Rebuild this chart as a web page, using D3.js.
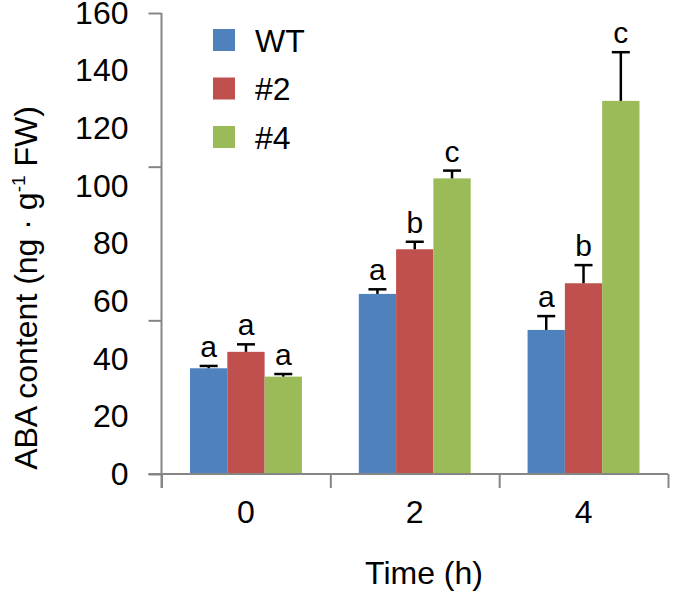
<!DOCTYPE html>
<html>
<head>
<meta charset="utf-8">
<script src="https://cdn.jsdelivr.net/npm/d3@7"></script>
<style>
  html, body { margin: 0; padding: 0; background: #fff; }
  svg { display: block; font-family: "Liberation Sans", Arial, sans-serif; }
</style>
</head>
<body>
<svg id="chart" width="675" height="596"></svg>
<script>
// ---- data ----
const categories = ["0", "2", "4"];
const seriesNames = ["WT", "#2", "#4"];
const seriesColors = ["#4F81BD", "#C0504D", "#9BBB59"];
const wtValues = [36.7, 62.5, 50.0];
const l2Values = [42.4, 78.0, 66.2];
const l4Values = [33.8, 102.6, 129.5];
const wtErr = [0.8, 1.6, 4.8];
const l2Err = [2.6, 2.6, 6.3];
const l4Err = [0.9, 2.7, 16.9];
const wtSig = ["a", "a", "a"];
const l2Sig = ["a", "b", "b"];
const l4Sig = ["a", "c", "c"];
const yTickLabels = [0, 20, 40, 60, 80, 100, 120, 140, 160];
const yTickMarks = [0, 160 / 3, 320 / 3, 160];
const xLabel = "Time (h)";

(function () {
const values = [wtValues, l2Values, l4Values];
const errs = [wtErr, l2Err, l4Err];
const sigs = [wtSig, l2Sig, l4Sig];

const rows = [];
categories.forEach((c, ci) => {
  seriesNames.forEach((s, si) => {
    rows.push({ cat: c, ser: s, si, v: values[si][ci], e: errs[si][ci], sig: sigs[si][ci] });
  });
});

const svg = d3.select("#chart");
const mLeft = 161.5, mRight = 668, mTop = 13, mBottom = 474;
const axisColor = "#868686";

const y = d3.scaleLinear().domain([0, 160]).range([mBottom, mTop]);
const x0 = d3.scaleBand().domain(categories).range([mLeft, mRight]).paddingInner(0.337).paddingOuter(0.169);
const x1 = d3.scaleBand().domain(seriesNames).range([0, x0.bandwidth()]);
const color = d3.scaleOrdinal().domain(seriesNames).range(seriesColors);
const xb = d3.scaleLinear().domain([0, categories.length]).range([mLeft, mRight]);

// bars
svg.append("g").selectAll("rect").data(rows).join("rect")
  .attr("x", d => x0(d.cat) + x1(d.ser))
  .attr("y", d => y(d.v))
  .attr("width", x1.bandwidth())
  .attr("height", d => y(0) - y(d.v))
  .attr("fill", d => color(d.ser));

// error bars
const eg = svg.append("g").attr("stroke", "#000").attr("stroke-width", 2.5);
eg.selectAll("line.stem").data(rows).join("line").attr("class", "stem")
  .attr("x1", d => x0(d.cat) + x1(d.ser) + x1.bandwidth() / 2)
  .attr("x2", d => x0(d.cat) + x1(d.ser) + x1.bandwidth() / 2)
  .attr("y1", d => y(d.v))
  .attr("y2", d => y(d.v + d.e));
eg.selectAll("line.cap").data(rows).join("line").attr("class", "cap")
  .attr("x1", d => x0(d.cat) + x1(d.ser) + x1.bandwidth() / 2 - 9)
  .attr("x2", d => x0(d.cat) + x1(d.ser) + x1.bandwidth() / 2 + 9)
  .attr("y1", d => y(d.v + d.e))
  .attr("y2", d => y(d.v + d.e));

// significance letters
svg.append("g").selectAll("text").data(rows).join("text")
  .attr("x", d => x0(d.cat) + x1(d.ser) + x1.bandwidth() / 2)
  .attr("y", d => y(d.v + d.e) - 9)
  .attr("text-anchor", "middle")
  .attr("font-size", 30)
  .attr("fill", "#000")
  .text(d => d.sig);

// y axis: tick marks
const yMarks = svg.append("g").attr("transform", `translate(${mLeft},0)`)
  .call(d3.axisLeft(y).tickValues(yTickMarks).tickSize(13).tickFormat(""));
yMarks.select(".domain").remove();
yMarks.selectAll("line").attr("stroke", axisColor).attr("stroke-width", 2);

// y axis line
svg.append("line").attr("x1", mLeft).attr("x2", mLeft).attr("y1", y(160)).attr("y2", y(0) + 14)
  .attr("stroke", axisColor).attr("stroke-width", 2);

// y axis labels
const yLab = svg.append("g").attr("transform", `translate(${mLeft},0)`)
  .call(d3.axisLeft(y).tickValues(yTickLabels).tickSize(0).tickPadding(33).tickFormat(d3.format("d")));
yLab.select(".domain").remove();
yLab.selectAll("text").attr("font-size", 32).attr("fill", "#000").attr("font-family", "Liberation Sans, Arial, sans-serif");

// x axis boundary ticks
const xMarks = svg.append("g").attr("transform", `translate(0,${mBottom})`)
  .call(d3.axisBottom(xb).tickValues(d3.range(categories.length + 1)).tickSize(14).tickFormat(""));
xMarks.select(".domain").remove();
xMarks.selectAll("line").attr("stroke", axisColor).attr("stroke-width", 2);

// x axis line
svg.append("line").attr("x1", mLeft - 13).attr("x2", mRight).attr("y1", mBottom).attr("y2", mBottom)
  .attr("stroke", axisColor).attr("stroke-width", 2);

// x category labels
const xLab = svg.append("g").attr("transform", `translate(0,${mBottom})`)
  .call(d3.axisBottom(x0).tickSize(0).tickPadding(0));
xLab.select(".domain").remove();
xLab.selectAll("text").attr("font-size", 32).attr("fill", "#000")
  .attr("font-family", "Liberation Sans, Arial, sans-serif")
  .attr("dy", null).attr("y", 49);

// axis titles
svg.append("text").attr("x", 424).attr("y", 584).attr("text-anchor", "middle")
  .attr("font-size", 32).attr("fill", "#000").text(xLabel);

const yt = svg.append("text").attr("transform", "translate(37,288) rotate(-90)")
  .attr("text-anchor", "middle").attr("font-size", 32).attr("fill", "#000");
yt.append("tspan").text("ABA content (ng · g");
yt.append("tspan").attr("font-size", 19).attr("dy", -12).text("-1");
yt.append("tspan").attr("dy", 12).text(" FW)");

// legend
const lg = svg.append("g").selectAll("g").data(seriesNames).join("g")
  .attr("transform", (d, i) => `translate(213,${29 + i * 48.5})`);
lg.append("rect").attr("width", 22).attr("height", 22).attr("fill", d => color(d));
lg.append("text").attr("x", 42).attr("y", 11).attr("dy", "0.36em")
  .attr("font-size", 32).attr("fill", "#000").text(d => d);
})();
</script>
</body>
</html>
